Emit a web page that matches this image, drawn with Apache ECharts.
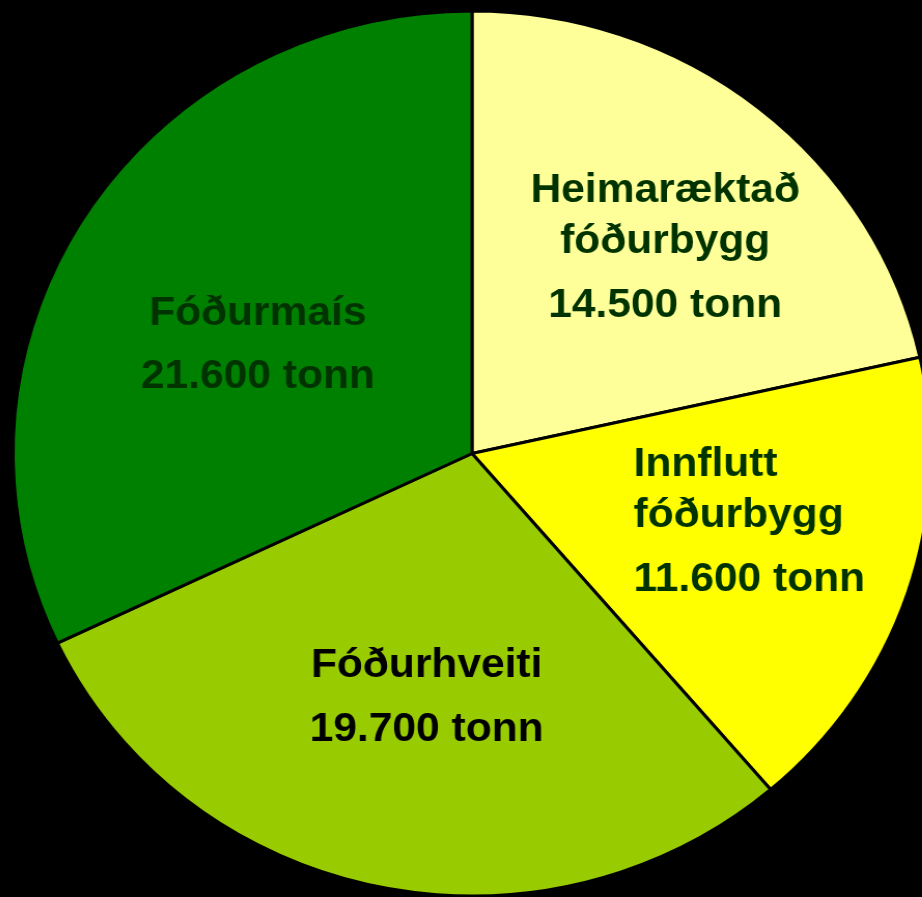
<!DOCTYPE html>
<html>
<head>
<meta charset="utf-8">
<script src="https://cdn.jsdelivr.net/npm/echarts@6/dist/echarts.min.js"></script>
<style>
  html, body { margin: 0; padding: 0; background: #000; overflow: hidden; }
  /* the original pie is slightly wider than tall */
  #chart { width: 922px; height: 897px; transform: scaleX(1.037); transform-origin: 472px 0; }
</style>
</head>
<body>
<div id="chart"></div>
<script>
const categories = ['Heimaræktað\nfóðurbygg', 'Innflutt\nfóðurbygg', 'Fóðurhveiti', 'Fóðurmaís']
const tonnes = [14500, 11600, 19700, 21600]
const sliceColors = ['#ffff99', '#ffff00', '#99cc00', '#008000']
const textColors = ['#003300', '#003300', '#000000', '#003300']
// label nudges from the default inside position
const labelShift = [[46, -24], [56, 4], [3, 31], [-17, 18]]

const fmt = v => String(v).replace(/\B(?=(\d{3})+(?!\d))/g, '.')

const chart = echarts.init(document.getElementById('chart'))

chart.setOption({
  backgroundColor: '#000',
  animation: false,
  series: [
    {
      type: 'pie',
      center: [472, 453.5],
      radius: 442.5,
      startAngle: 90,
      clockwise: true,
      avoidLabelOverlap: false,
      itemStyle: { borderColor: '#000', borderWidth: 3 },
      labelLine: { show: false },
      label: {
        show: true,
        position: 'inside',
        fontFamily: '"Liberation Sans", Arial, sans-serif',
        fontWeight: 'bold',
        fontSize: 41,
        formatter: p => {
          const lines = p.name.split('\n').map(s => '{n|' + s + '}')
          lines.push('{v|' + fmt(p.value) + ' tonn}')
          return lines.join('\n')
        }
      },
      labelLayout: p => ({ dx: labelShift[p.dataIndex][0], dy: labelShift[p.dataIndex][1] }),
      data: categories.map((name, i) => {
        const base = {
          color: textColors[i],
          fontFamily: '"Liberation Sans", Arial, sans-serif',
          fontWeight: 'bold',
          fontSize: 41
        }
        if (i === 1) { base.width = 226; base.align = 'left' }
        return {
          name,
          value: tonnes[i],
          itemStyle: { color: sliceColors[i] },
          label: {
            color: textColors[i],
            rich: {
              n: Object.assign({}, base, { lineHeight: 51 }),
              v: Object.assign({}, base, { lineHeight: 76 })
            }
          }
        }
      })
    }
  ]
})
</script>
</body>
</html>
